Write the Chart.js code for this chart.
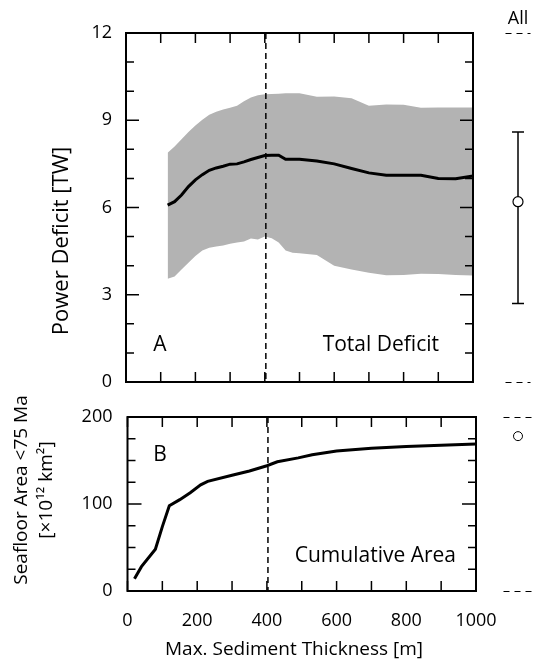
<!DOCTYPE html>
<html>
<head>
<meta charset="utf-8">
<title>Power deficit and seafloor area vs. sediment thickness</title>
<script src="https://cdn.jsdelivr.net/npm/chart.js@4.4.1/dist/chart.umd.min.js"></script>
<style>
  html, body { margin: 0; background: #fff; }
  #wrap { position: relative; width: 538px; height: 666px; }
  canvas { position: absolute; }
</style>
</head>
<body>
<div id="wrap">
  <canvas id="deficit" width="490" height="400" style="left:0;top:0"></canvas>
  <canvas id="deficitAll" width="40" height="400" style="left:498px;top:0"></canvas>
  <canvas id="area" width="538" height="281" style="left:0;top:385px"></canvas>
  <canvas id="areaAll" width="40" height="281" style="left:498px;top:385px"></canvas>
</div>
<script>
const FONT = "'Open Sans', sans-serif";
Chart.defaults.font.family = FONT;
Chart.defaults.color = '#000';

// max. sediment thickness where the deficit was evaluated [m]
const thickness = [120, 140, 160, 180, 200, 220, 240, 260, 280, 300, 320, 340, 360, 380, 400,
  420, 440, 460, 480, 500, 550, 600, 650, 700, 750, 800, 850, 900, 950, 1000];
// power deficit [TW]: mean and spread
const deficitMean = [6.08, 6.2, 6.43, 6.72, 6.95, 7.13, 7.28, 7.36, 7.42, 7.49, 7.5, 7.57, 7.65, 7.72, 7.79,
  7.8, 7.8, 7.66, 7.66, 7.66, 7.6, 7.5, 7.34, 7.19, 7.11, 7.11, 7.11, 7.0, 6.99, 7.08];
const deficitHigh = [7.88, 8.1, 8.35, 8.6, 8.82, 9.02, 9.19, 9.29, 9.37, 9.43, 9.5, 9.65, 9.78, 9.86, 9.89,
  9.9, 9.91, 9.93, 9.93, 9.93, 9.81, 9.82, 9.76, 9.5, 9.54, 9.53, 9.43, 9.44, 9.44, 9.44];
const deficitLow = [3.55, 3.63, 3.87, 4.1, 4.33, 4.52, 4.62, 4.66, 4.69, 4.75, 4.8, 4.83, 4.93, 4.9, 5.0,
  4.94, 4.8, 4.52, 4.44, 4.43, 4.37, 4.0, 3.87, 3.76, 3.67, 3.68, 3.72, 3.71, 3.68, 3.66];

// cumulative seafloor area younger than 75 Ma [x10^12 km^2]
const areaThickness = [20, 40, 80, 100, 120, 150, 180, 210, 230, 300, 350, 400, 430, 490, 530, 600, 700, 800, 900, 1000];
const cumulativeArea = [14, 28, 48, 74, 98, 105, 113, 122, 126, 133, 138, 144, 148.5, 153, 156.5, 161, 164, 166, 167.5, 169];

// whole seafloor ("All"): deficit low / mean / high, and total area
const allDeficit = [2.7, 6.2, 8.6];
const allArea = [178];

// dashed reference thickness [m]
const cutoff = 403;

const deficitTicks = [0, 3, 6, 9, 12];
const areaTicks = [0, 100, 200];
const thicknessTicks = [0, 200, 400, 600, 800, 1000];

const xy = (xs, ys) => xs.map((x, i) => ({ x, y: ys[i] }));

// label overhang would otherwise shrink the plot area
const flush = s => { s.paddingLeft = s.paddingRight = s.paddingTop = s.paddingBottom = 0; };

// box round the plot area with inward ticks on every side
function boxTicks(major, yLong, yShort, xLen) {
  return {
    id: 'boxTicks',
    afterDatasetsDraw(chart) {
      const { ctx, chartArea: a, scales: { x, y } } = chart;
      ctx.save();
      ctx.strokeStyle = '#000';
      ctx.lineWidth = 1.5;
      ctx.beginPath();
      x.ticks.forEach(t => {
        const px = x.getPixelForValue(t.value);
        ctx.moveTo(px, a.bottom); ctx.lineTo(px, a.bottom - xLen);
        ctx.moveTo(px, a.top); ctx.lineTo(px, a.top + xLen);
      });
      y.ticks.forEach(t => {
        const py = y.getPixelForValue(t.value);
        const len = major.includes(t.value) ? yLong : yShort;
        ctx.moveTo(a.left, py); ctx.lineTo(a.left + len, py);
        ctx.moveTo(a.right, py); ctx.lineTo(a.right - len, py);
      });
      ctx.stroke();
      ctx.lineWidth = 2;
      ctx.strokeRect(a.left, a.top, a.right - a.left, a.bottom - a.top);
      ctx.restore();
    }
  };
}

const cutoffLine = {
  id: 'cutoffLine',
  afterDatasetsDraw(chart) {
    const { ctx, chartArea: a, scales: { x } } = chart;
    const px = x.getPixelForValue(cutoff);
    ctx.save();
    ctx.strokeStyle = '#000';
    ctx.lineWidth = 1.5;
    ctx.setLineDash([6, 4]);
    ctx.beginPath(); ctx.moveTo(px, a.top); ctx.lineTo(px, a.bottom); ctx.stroke();
    ctx.restore();
  }
};

// dashed lines marking the top and bottom of the value range
const rangeBounds = {
  id: 'rangeBounds',
  afterDraw(chart) {
    const { ctx, chartArea: a, scales: { y } } = chart;
    ctx.save();
    ctx.strokeStyle = '#000';
    ctx.lineWidth = 1;
    ctx.setLineDash([6, 5]);
    [y.max, y.min].forEach(v => {
      const py = Math.round(y.getPixelForValue(v)) + 0.5;
      ctx.beginPath(); ctx.moveTo(a.left, py); ctx.lineTo(a.right, py); ctx.stroke();
    });
    ctx.restore();
  }
};

function labels(items) {
  return {
    id: 'labels',
    afterDraw(chart) {
      const { ctx } = chart;
      items.forEach(it => {
        ctx.save();
        ctx.font = it.size + 'px ' + FONT;
        ctx.fillStyle = '#000';
        ctx.textAlign = it.align || 'center';
        ctx.textBaseline = 'middle';
        ctx.translate(it.x, it.y);
        if (it.rotate) ctx.rotate(-Math.PI / 2);
        ctx.fillText(it.text, 0, 0);
        ctx.restore();
      });
    }
  };
}

const tickFont = { size: 18 };
const quiet = { legend: { display: false }, tooltip: { enabled: false } };
const noGrid = { display: false, drawTicks: false };

/* A: total deficit */
new Chart(document.getElementById('deficit'), {
  type: 'line',
  data: {
    datasets: [
      { data: xy(thickness, deficitMean), borderColor: '#000', borderWidth: 3, pointRadius: 0, fill: false },
      { data: xy(thickness, deficitHigh), borderWidth: 0, pointRadius: 0, backgroundColor: '#b3b3b3', fill: '+1' },
      { data: xy(thickness, deficitLow), borderWidth: 0, pointRadius: 0, fill: false }
    ]
  },
  options: {
    responsive: false,
    animation: false,
    layout: { padding: { top: 33, right: 17 } },
    plugins: quiet,
    scales: {
      x: {
        type: 'linear', min: 0, max: 1000,
        ticks: { stepSize: 100, display: false },
        grid: noGrid, border: { display: false },
        afterFit: s => { flush(s); s.height = 18; }
      },
      y: {
        min: 0, max: 12,
        ticks: {
          stepSize: 1, padding: 14, font: tickFont, autoSkip: false,
          callback: v => deficitTicks.includes(v) ? v : ''
        },
        grid: noGrid, border: { display: false },
        afterFit: s => { flush(s); s.width = 126; }
      }
    }
  },
  plugins: [cutoffLine, boxTicks(deficitTicks, 13, 8, 10), labels([
    { text: 'Power Deficit [TW]', x: 62, y: 241, size: 22, rotate: true },
    { text: 'A', x: 160, y: 345, size: 21 },
    { text: 'Total Deficit', x: 439, y: 345, size: 21, align: 'right' }
  ])]
});

/* A, right column: whole seafloor */
new Chart(document.getElementById('deficitAll'), {
  type: 'line',
  data: {
    datasets: [
      { data: [{ x: 0, y: allDeficit[1] }], showLine: false, pointRadius: 5,
        pointBackgroundColor: '#fff', pointBorderColor: '#000', pointBorderWidth: 1.2 },
      { data: [{ x: 0, y: allDeficit[0] }, { x: 0, y: allDeficit[2] }], borderColor: '#000', borderWidth: 1.5,
        pointStyle: 'line', pointRadius: 6, pointBorderColor: '#000', pointBorderWidth: 1.5 }
    ]
  },
  options: {
    responsive: false,
    animation: false,
    layout: { padding: { bottom: 18 } },
    plugins: quiet,
    scales: {
      x: {
        type: 'linear', min: -1, max: 1, position: 'top',
        ticks: { display: false }, grid: noGrid, border: { display: false },
        title: { display: true, text: 'All', font: { size: 18 }, padding: { top: 8 } },
        afterFit: s => { flush(s); s.height = 33; }
      },
      y: { min: 0, max: 12, display: false }
    }
  },
  plugins: [rangeBounds]
});

/* B: cumulative area */
new Chart(document.getElementById('area'), {
  type: 'line',
  data: {
    datasets: [
      { data: xy(areaThickness, cumulativeArea), borderColor: '#000', borderWidth: 3, pointRadius: 0, fill: false }
    ]
  },
  options: {
    responsive: false,
    animation: false,
    layout: { padding: { top: 32, right: 62 } },
    plugins: quiet,
    scales: {
      x: {
        type: 'linear', min: 0, max: 1000,
        ticks: {
          stepSize: 100, padding: 19, font: tickFont, autoSkip: false, maxRotation: 0, minRotation: 0,
          callback: v => thicknessTicks.includes(v) ? v : ''
        },
        grid: noGrid, border: { display: false },
        afterFit: s => { flush(s); s.height = 75; }
      },
      y: {
        min: 0, max: 200,
        ticks: {
          stepSize: 25, padding: 15, font: tickFont, autoSkip: false,
          callback: v => areaTicks.includes(v) ? v : ''
        },
        grid: noGrid, border: { display: false },
        afterFit: s => { flush(s); s.width = 127.5; }
      }
    }
  },
  plugins: [cutoffLine, boxTicks(areaTicks, 14, 8, 10), labels([
    { text: 'Seafloor Area <75 Ma', x: 22, y: 105, size: 19, rotate: true },
    { text: '[×10¹² km²]', x: 47, y: 105, size: 19, rotate: true },
    { text: 'B', x: 160, y: 70, size: 21 },
    { text: 'Cumulative Area', x: 456, y: 171, size: 21, align: 'right' },
    { text: 'Max. Sediment Thickness [m]', x: 294, y: 265, size: 19 }
  ])]
});

/* B, right column: whole seafloor */
new Chart(document.getElementById('areaAll'), {
  type: 'line',
  data: {
    datasets: [
      { data: [{ x: 0, y: allArea[0] }], showLine: false, pointRadius: 4.5,
        pointBackgroundColor: '#fff', pointBorderColor: '#000', pointBorderWidth: 1 }
    ]
  },
  options: {
    responsive: false,
    animation: false,
    layout: { padding: { top: 32, bottom: 75 } },
    plugins: quiet,
    scales: {
      x: { type: 'linear', min: -1, max: 1, display: false },
      y: { min: 0, max: 200, display: false }
    }
  },
  plugins: [rangeBounds]
});
</script>
</body>
</html>
